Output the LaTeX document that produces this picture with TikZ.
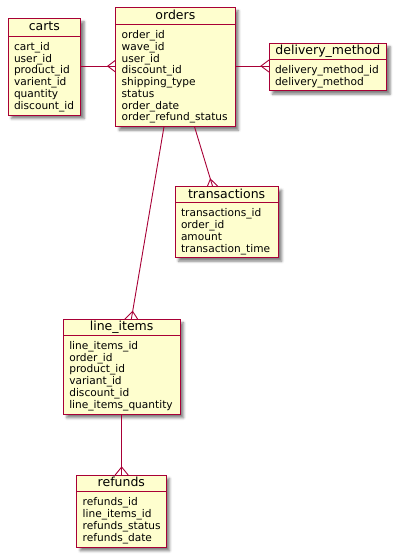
\documentclass[tikz,border=0pt]{standalone}
\usepackage{fontspec}
\usetikzlibrary{calc,shadows.blur}
\newfontfamily\erfont{DejaVu Sans}
\definecolor{erfill}{HTML}{FEFECE}
\definecolor{erline}{HTML}{A80036}

\tikzset{
  entitybox/.style={draw=erline, fill=erfill, line width=1pt, rectangle,
    inner sep=0pt, outer sep=0pt, anchor=north west,
    blur shadow={shadow xshift=3.5pt, shadow yshift=-3.5pt,
      shadow blur radius=2.5pt, shadow opacity=50}},
  septline/.style={draw=erline, line width=1pt},
  titletext/.style={font=\erfont\fontsize{12.5}{14}\selectfont, inner sep=0pt,
    text height=9.5pt, text depth=2.6pt},
  attrtext/.style={font=\erfont\fontsize{10.6}{11.75}\selectfont, inner sep=0pt,
    anchor=north west, align=left},
  rel/.style={draw=erline, line width=0.9pt}
}

% entity: name, left, top, right, separator, bottom, title, attributes
\newcommand\erentity[8]{%
  \node[entitybox, minimum width={(#4-#2)*1pt}, minimum height={(#6-#3)*1pt}]
    (#1) at (#2,#3) {};
  \draw[septline] (#2,#5) -- (#4,#5);
  \node[titletext] (#1-title) at ({(#2+#4)/2},{(#3+#5)/2}) {#7};
  \node[attrtext] (#1-attrs) at (#2+5.8,#5+6) {#8};
}

% crow's foot: far end, point on the box edge, half spread along the edge
\newcommand\crowfoot[4]{%
  \draw[rel] ($(#2)+(#3,#4)$) -- ($(#2)!8pt!(#1)$) -- ($(#2)-(#3,#4)$);
}

\begin{document}
\begin{tikzpicture}[x=1pt,y=-1pt]
\useasboundingbox (0,0) rectangle (400,560);

\erentity{carts}{8}{18.3}{80.7}{36}{115}{carts}
  {cart\_id\\user\_id\\product\_id\\varient\_id\\quantity\\discount\_id}
\erentity{orders}{115.7}{7.3}{235}{24.3}{126.7}{orders}
  {order\_id\\wave\_id\\user\_id\\discount\_id\\shipping\_type\\status\\order\_date\\order\_refund\_status}
\erentity{delivery}{269}{43.3}{386.7}{59.3}{90.7}{delivery\_method}
  {delivery\_method\_id\\delivery\_method}
\erentity{transactions}{175}{186.7}{278.3}{202.7}{257.7}{transactions}
  {transactions\_id\\order\_id\\amount\\transaction\_time}
\erentity{lineitems}{63.3}{319.3}{180}{335}{414.3}{line\_items}
  {line\_items\_id\\order\_id\\product\_id\\variant\_id\\discount\_id\\line\_items\_quantity}
\erentity{refunds}{76.7}{475}{166}{491.7}{547.3}{refunds}
  {refunds\_id\\line\_items\_id\\refunds\_status\\refunds\_date}

% connector end points
\coordinate (c-o) at ($(carts.east)+(0,-0.5)$);
\coordinate (o-c) at (c-o -| orders.west);
\coordinate (o-d) at ($(orders.east)+(0,-1)$);
\coordinate (d-o) at (o-d -| delivery.west);
\coordinate (o-l) at ($(orders.south west)+(48.3,0)$);
\coordinate (l-o) at ($(lineitems.north west)+(68,0)$);
\coordinate (o-t) at ($(orders.south west)+(78.8,0)$);
\coordinate (t-o) at ($(transactions.north west)+(37.7,0)$);
\coordinate (l-r) at (lineitems.south);
\coordinate (r-l) at (l-r |- refunds.north);

% relationships
\draw[rel] (c-o) -- (o-c);
\crowfoot{c-o}{o-c}{0}{6}
\draw[rel] (o-d) -- (d-o);
\crowfoot{o-d}{d-o}{0}{6}
\draw[rel] (o-t) -- (t-o);
\crowfoot{o-t}{t-o}{5.5}{0}
\draw[rel] (o-l) -- (l-o);
\crowfoot{o-l}{l-o}{6.5}{0}
\draw[rel] (l-r) -- (r-l);
\crowfoot{l-r}{r-l}{6.5}{0}
\end{tikzpicture}
\end{document}
